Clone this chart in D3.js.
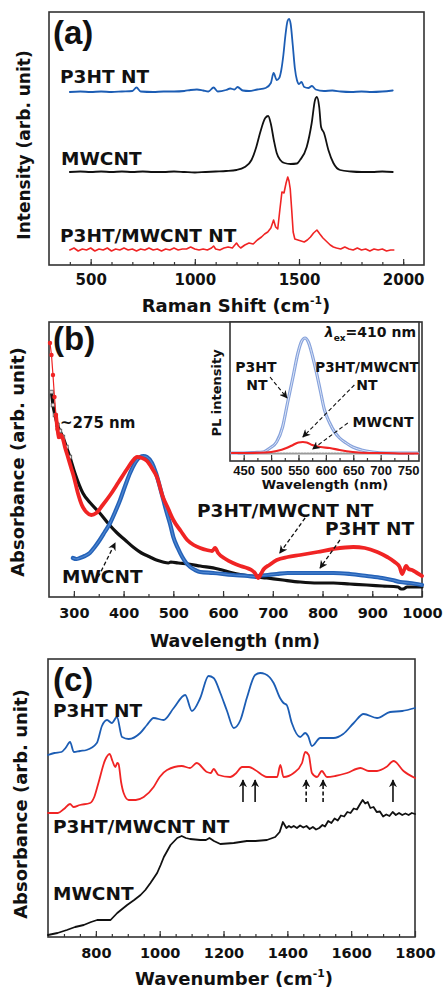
<!DOCTYPE html>
<html>
<head>
<meta charset="utf-8">
<title>P3HT / MWCNT nanotube spectra</title>
<script src="https://d3js.org/d3.v7.min.js"></script>
<style>
  body { margin: 0; background: #fff; }
  svg text { font-family: "DejaVu Sans", sans-serif; font-weight: bold; fill: #111; }
  .tick line { stroke: #333; stroke-width: 1.2; }
  .tick text { fill: #111; }
</style>
</head>
<body>
<svg id="fig" width="444" height="994"></svg>
<script>
// ---------- (a) Raman, [shift cm-1, intensity arb.] ----------
var ramanP3ht = [[400,173],[450,173.5],[500,173],[550,173.5],[600,173],[650,173.5],[700,174],[720,177.5],[740,173.5],
  [800,173],[850,173.5],[900,173.5],[950,174],[980,175],[1010,175.5],[1040,174.5],[1065,173.5],[1090,177.5],[1110,173.5],
  [1150,175],[1170,176.5],[1190,175.5],[1205,178],[1230,174.5],[1260,174],[1300,175.5],[1340,177],[1365,182],[1378,192],
  [1393,185],[1405,187],[1415,195],[1425,210],[1435,230],[1445,244],[1452,246],[1460,241],[1470,220],[1480,197],[1490,185],
  [1500,181],[1512,183],[1525,178],[1545,177],[1562,179],[1580,175.5],[1620,174],[1660,174.5],[1700,173.5],[1750,173],
  [1800,173.5],[1850,173],[1900,173.5],[1950,174.5]];
var ramanMwcnt = [[400,93],[450,93.5],[500,93],[550,93.5],[600,93],[650,93.5],[700,93],[750,93.5],[800,93],[850,93],
  [900,93.5],[950,93],[1000,92.5],[1050,93],[1100,93.5],[1150,94],[1200,95],[1240,98],[1272,105],[1295,118],[1313,132],
  [1338,147],[1352,149],[1365,141],[1380,124],[1393,112],[1410,105],[1430,102],[1460,101],[1490,101.5],[1505,105],
  [1537,118],[1561,142],[1577,165],[1586,168],[1597,158],[1606,138],[1620,132],[1641,115],[1665,102],[1697,95],
  [1750,93.5],[1800,93],[1850,93],[1900,93.5],[1950,93]];
var ramanHybrid = [[400,15],[420,17],[440,14],[460,16],[480,15],[500,17],[520,14],[540,16],[560,15],[580,17],[600,14],
  [620,16],[640,15],[660,17],[680,15],[700,16],[720,14],[740,16],[760,15],[780,17],[800,15],[820,16],[840,14],[860,16],
  [880,15],[900,17],[920,15],[940,16],[960,16],[980,18],[1000,16],[1020,15],[1040,16],[1060,15],[1080,17],[1090,19],
  [1100,16],[1120,15],[1140,17],[1160,18],[1180,17],[1200,22],[1210,19],[1220,17],[1240,20],[1260,22],[1280,21],[1300,25],
  [1320,28],[1335,31],[1350,33],[1365,37],[1378,45],[1388,38],[1398,36],[1408,55],[1418,73],[1428,72],[1438,82],[1446,88],
  [1452,84],[1458,76],[1465,55],[1472,33],[1480,26],[1495,25],[1510,24],[1525,23],[1540,25],[1555,28],[1570,32],[1586,35],
  [1600,31],[1615,27],[1630,24],[1650,20],[1665,18],[1680,17],[1700,16],[1720,18],[1740,16],[1760,15],[1780,17],[1800,15],
  [1820,16],[1840,14],[1860,16],[1880,15],[1900,16],[1920,14],[1940,15],[1955,15]];
var ramanMajor = [500, 1000, 1500, 2000];

// ---------- (b) UV-vis absorbance, [wavelength nm, absorbance arb.] ----------
var absHybrid = [[252,254],[255,242],[258,222],[261,200],[264,182],[267,168],[270,160],[274,162],[278,158],[282,150],
  [288,140],[294,130],[300,120],[308,104],[316,92],[325,85],[335,82],[345,84],[358,92],[373,102],[390,115],[407,128],
  [418,136],[427,140],[437,139],[447,136],[458,128],[467,120],[479,100],[490,88],[500,77],[515,66],[528,57],[541,52],
  [554,49],[567,47],[578,46],[584,49],[590,44],[605,38],[620,34],[635,31],[648,29],[657,27],[664,24],[671,19],[676,23],
  [682,28],[693,32],[708,37],[730,40],[755,42],[790,45],[822,48],[862,50],[885,49],[910,45],[930,40],[945,35],[955,30],
  [960,23],[964,27],[968,31],[973,28],[980,27],[990,24],[1000,21]];
var absMwcnt = [[255,205],[258,192],[262,182],[267,172],[272,166],[278,160],[285,150],[292,140],[302,124],[318,104],
  [335,93],[352,84],[370,73],[387,64],[403,57],[419,50],[436,44],[453,40],[466,37],[479,35],[490,34],[495,35],[510,34],
  [530,33],[554,31],[590,28],[620,24],[655,21],[688,19],[720,17],[755,15],[790,14],[822,14],[855,13],[889,12],[920,11],
  [952,10],[958,8],[962,8],[970,10],[985,10],[1000,10]];
var absP3ht = [[298,39],[305,38],[312,39],[322,41],[332,44],[342,50],[352,57],[362,65],[373,74],[383,85],[393,97],
  [403,111],[413,124],[423,134],[433,140],[440,141],[447,140],[457,134],[465,124],[473,110],[480,97],[487,84],[494,72],
  [500,60],[509,49],[518,40],[526,34],[534,30],[544,27],[554,25],[580,24],[620,22],[650,21],[668,20],[672,21],[690,22],
  [708,23],[730,24],[755,24],[790,24],[822,24],[855,23],[889,21],[920,19],[940,17],[956,15],[975,14],[1000,12]];
var absMajor = [300, 400, 500, 600, 700, 800, 900, 1000];

// inset: PL, [wavelength nm, PL intensity]
var plP3ht = [[428,8],[450,8],[470,8.5],[485,9],[498,13],[510,19],[521,34],[530,58],[540,84],[549,108],[556,120],
  [562,123],[568,119],[576,104],[583,88],[590,70],[597,52],[607,38],[616,29],[625,23],[637,18],[649,14],[665,11],
  [685,9],[710,8],[740,8],[768,8]];
var plHybrid = [[428,8],[460,8],[490,8.5],[510,10],[528,13],[540,16],[550,18.5],[558,19],[565,18.5],[575,16],[590,14],
  [607,13],[625,11],[649,9],[680,8],[710,8],[740,7.5],[768,7.5]];
var plMwcnt = [[440,7.5],[480,7.5],[520,7.5],[560,7.5],[600,7.5],[640,7.5],[680,7.5],[720,7.5],[760,7.5]];
var plMajor = [450, 500, 550, 600, 650, 700, 750];

// ---------- (c) FTIR, [wavenumber cm-1, absorbance arb.] ----------
var irP3ht = [[650,182],[670,184],[692,185],[705,189],[719,195],[731,185],[750,186],[771,187],[803,194],[819,211],
  [835,217],[850,214],[866,220],[882,200],[903,198],[939,204],[960,212],[981,219],[1012,217],[1044,229],[1080,242],
  [1101,226],[1127,239],[1153,261],[1169,259],[1190,244],[1211,226],[1232,209],[1253,217],[1273,239],[1299,262],
  [1315,264],[1330,263],[1357,254],[1377,239],[1388,234],[1398,232],[1414,214],[1440,200],[1456,204],[1465,201],
  [1477,191],[1503,199],[1545,199],[1575,203],[1608,214],[1639,223],[1681,219],[1722,225],[1760,226],[1800,229]];
var irHybrid = [[650,124],[681,124],[700,128],[719,133],[730,130],[750,132],[782,134],[795,140],[808,154],[829,177],
  [843,183],[852,176],[861,170],[867,174],[871,173],[879,155],[887,144],[903,137],[925,137],[950,140],[981,150],
  [1000,160],[1023,167],[1069,171],[1095,169],[1116,174],[1148,165],[1160,164],[1169,168],[1184,162],[1221,160],
  [1240,164],[1258,170],[1280,170],[1299,167],[1336,160],[1368,160],[1378,172],[1388,160],[1420,164],[1446,174],
  [1456,185],[1467,182],[1477,164],[1493,160],[1508,166],[1524,160],[1550,161],[1587,164],[1629,169],[1655,166],
  [1681,166],[1710,170],[1733,176],[1764,166],[1800,159]];
var irMwcnt = [[650,2],[680,4],[709,7],[735,10],[762,12],[785,15],[804,17],[825,17],[846,17],[867,24],[898,32],
  [920,37],[940,42],[955,47],[971,54],[992,64],[1003,72],[1013,80],[1034,92],[1055,99],[1069,101],[1082,99],[1095,98],
  [1127,97],[1145,97],[1156,99],[1170,96],[1190,93],[1232,94],[1273,96],[1300,96],[1336,97],[1362,100],[1376,105],
  [1386,115],[1397,109],[1405,111],[1412,109.5],[1420,111],[1430,109],[1440,111.5],[1450,109.5],[1460,111],[1470,108],
  [1480,110],[1490,107.5],[1500,109],[1510,112],[1518,110.5],[1528,116],[1538,114],[1548,118.5],[1558,116.5],[1568,121.5],
  [1578,120.5],[1588,125],[1598,124],[1608,128.5],[1618,127.5],[1628,133],[1636,137],[1644,133.5],[1652,135],[1660,129],
  [1670,130],[1680,125],[1690,125.5],[1700,120.5],[1710,122.5],[1720,121],[1730,125],[1740,122],[1750,124],[1760,122],
  [1770,123.5],[1780,122],[1790,124],[1800,123]];
var irMajor = [800, 1000, 1200, 1400, 1600, 1800];
var irPeaks = [1261, 1299, 1459, 1512, 1731];   // arrows under the hybrid trace
var irPeakDashed = [false, false, true, true, false];

var BLUE = "#1c5db4", RED = "#f02424", BLACK = "#111";

var svg = d3.select("#fig");

svg.append("defs").append("marker")
   .attr("id", "head")
   .attr("markerUnits", "userSpaceOnUse")
   .attr("viewBox", "0 0 10 10")
   .attr("refX", 9).attr("refY", 5)
   .attr("markerWidth", 8).attr("markerHeight", 8)
   .attr("orient", "auto")
   .append("path").attr("d", "M0,0 L10,5 L0,10 L3,5 z").attr("fill", "#111");

// frame + scales + bottom ticks for one panel
function makePanel(box, xDom, yDom, major, minorStep, fontSize, pad, font) {
  var x = d3.scaleLinear().domain(xDom).range([box.left, box.right]);
  var y = d3.scaleLinear().domain(yDom).range([box.bottom, box.top]);
  var g = svg.append("g");
  g.append("rect")
   .attr("x", box.left).attr("y", box.top)
   .attr("width", box.right - box.left).attr("height", box.bottom - box.top)
   .attr("fill", "#fff").attr("stroke", "#333").attr("stroke-width", 1.6);
  var minor = d3.range(xDom[0], xDom[1] + 1, minorStep).filter(function(d) {
    return d > xDom[0] && d < xDom[1];
  });
  g.append("g")
   .attr("transform", "translate(0," + box.bottom + ")")
   .call(d3.axisBottom(x).tickValues(minor).tickSize(-3).tickFormat(""))
   .call(function(s) { s.select(".domain").remove(); });
  g.append("g")
   .attr("transform", "translate(0," + box.bottom + ")")
   .call(d3.axisBottom(x).tickValues(major).tickSize(-6).tickPadding(pad).tickFormat(d3.format("d")))
   .call(function(s) {
     s.select(".domain").remove();
     s.selectAll("text").attr("font-size", fontSize)
      .style("font-family", font || "DejaVu Sans");
   });
  return { x: x, y: y, g: g };
}

function trace(p, data, color, width, curve) {
  var line = d3.line()
    .x(function(d) { return p.x(d[0]); })
    .y(function(d) { return p.y(d[1]); })
    .curve(curve || d3.curveMonotoneX);
  return p.g.append("path").datum(data)
    .attr("d", line).attr("fill", "none")
    .attr("stroke", color).attr("stroke-width", width)
    .attr("stroke-linejoin", "round").attr("stroke-linecap", "round");
}

function label(x, y, txt, size, anchor) {
  return svg.append("text").attr("x", x).attr("y", y)
    .attr("font-size", size).attr("text-anchor", anchor || "start").text(txt);
}

function panelLetter(x, y, txt) {
  label(x, y, txt, 33).style("font-family", "'Liberation Sans', Arial, sans-serif");
}

function xTitle(cx, y, main, sup, size) {
  var t = svg.append("text").attr("x", cx).attr("y", y).attr("text-anchor", "middle")
    .attr("font-size", size).text(main);
  if (sup) {
    t.append("tspan").attr("font-size", size * 0.6).attr("dy", -size * 0.42).text(sup);
    t.append("tspan").attr("dy", size * 0.42).text(")");
  }
}

function yTitle(cx, cy, txt, size) {
  svg.append("text")
    .attr("transform", "translate(" + cx + "," + cy + ") rotate(-90)")
    .attr("text-anchor", "middle").attr("dy", "0.35em")
    .attr("font-size", size).text(txt);
}

function arrow(p, from, to, dashed, width) {
  p.g.append("line")
    .attr("x1", p.x(from[0])).attr("y1", p.y(from[1]))
    .attr("x2", p.x(to[0])).attr("y2", p.y(to[1]))
    .attr("stroke", "#111").attr("stroke-width", width || 1.3)
    .attr("stroke-dasharray", dashed ? "4,2.5" : null)
    .attr("marker-end", "url(#head)");
}

// ===== (a) =====
var pa = makePanel({ left: 49, right: 424, top: 12, bottom: 265 }, [300, 2100], [0, 253],
                   ramanMajor, 100, 15, 9);
trace(pa, ramanP3ht, BLUE, 1.8);
trace(pa, ramanMwcnt, BLACK, 1.8);
trace(pa, ramanHybrid, RED, 1.6, d3.curveLinear);
panelLetter(53, 44, "(a)");
label(60, 83, "P3HT NT", 18.5);
label(61, 165, "MWCNT", 18.5);
label(60, 242, "P3HT/MWCNT NT", 18.5);
xTitle(236, 312, "Raman Shift (cm", "-1", 18);
yTitle(24, 145, "Intensity (arb. unit)", 17);

// ===== (b) =====
var pb = makePanel({ left: 49, right: 422, top: 322, bottom: 597 }, [250, 1000], [0, 275],
                   absMajor, 50, 14.5, 10.5);
trace(pb, absMwcnt, BLACK, 3.2);
pb.g.selectAll(".sqm").data(absMwcnt.filter(function(d) { return d[0] < 300; }))
  .enter().append("rect")
  .attr("x", function(d) { return pb.x(d[0]) - 1.8; }).attr("y", function(d) { return pb.y(d[1]) - 1.8; })
  .attr("width", 3.6).attr("height", 3.6).attr("fill", "#ddd").attr("stroke", "#555").attr("stroke-width", 0.8);
trace(pb, absP3ht, "#2462b8", 4.2);
trace(pb, absP3ht, "#4f86d0", 1.2);
trace(pb, absHybrid.filter(function(d) { return d[0] <= 266; }), RED, 1.2, d3.curveLinear);
trace(pb, absHybrid.filter(function(d) { return d[0] >= 264; }), RED, 3.8);
pb.g.selectAll(".dotm").data(absHybrid.filter(function(d) { return d[0] <= 270; }))
  .enter().append("circle")
  .attr("cx", function(d) { return pb.x(d[0]); }).attr("cy", function(d) { return pb.y(d[1]); })
  .attr("r", 2.2).attr("fill", RED);
arrow(pb, [349, 20], [383, 54], true);
arrow(pb, [765, 79], [714, 44], true);
arrow(pb, [835, 57], [795, 29], true);
panelLetter(53, 350, "(b)");
label(60, 428, "~275 nm", 15);
label(62, 583, "MWCNT", 18.5);
label(197, 517, "P3HT/MWCNT NT", 18.5);
label(325, 535, "P3HT NT", 18.5);
xTitle(235, 647, "Wavelength (nm)", null, 17.5);
yTitle(18, 462, "Absorbance (arb. unit)", 18);

// inset
var pi = makePanel({ left: 230, right: 419, top: 322, bottom: 461 }, [425, 770], [0, 139],
                   plMajor, 25, 13, 5, "'Liberation Sans', Arial, sans-serif");
trace(pi, plMwcnt, "#9a9a9a", 2.2, d3.curveLinear).attr("stroke-dasharray", "1.5,1.5");
trace(pi, plP3ht, "#86a2dc", 3.2);
trace(pi, plP3ht, "#dbe4f6", 1);
trace(pi, plHybrid, RED, 2.2);
arrow(pi, [498, 84], [529, 63], true, 1.1);
arrow(pi, [652, 76], [558, 24], true, 1.1);
arrow(pi, [640, 38], [576, 12], true, 1.1);
var lam = svg.append("text").attr("x", 416).attr("y", 337).attr("text-anchor", "end").attr("font-size", 14);
lam.append("tspan").attr("font-style", "italic").text("λ");
lam.append("tspan").attr("font-size", 9).attr("dy", 4).text("ex");
lam.append("tspan").attr("dy", -4).text("=410 nm");
label(256, 372, "P3HT", 14, "middle");
label(257, 390, "NT", 14, "middle");
label(367, 372, "P3HT/MWCNT", 13.5, "middle");
label(367, 390, "NT", 14, "middle");
label(383, 427, "MWCNT", 14, "middle");
xTitle(325, 489, "Wavelength (nm)", null, 13);
yTitle(216, 393, "PL intensity", 13);

// ===== (c) =====
var pc = makePanel({ left: 48, right: 415, top: 659, bottom: 937 }, [650, 1800], [0, 278],
                   irMajor, 50, 14.5, 10.5);
trace(pc, irP3ht, BLUE, 1.8);
trace(pc, irHybrid, RED, 1.8);
trace(pc, irMwcnt, BLACK, 1.8, d3.curveLinear);
irPeaks.forEach(function(w, i) {
  arrow(pc, [w, 135], [w, 157], irPeakDashed[i], 1.6);
});
panelLetter(53, 691, "(c)");
label(53, 717, "P3HT NT", 18.5);
label(53, 833, "P3HT/MWCNT NT", 18.5);
label(53, 900, "MWCNT", 18.5);
xTitle(234, 985, "Wavenumber (cm", "-1", 18);
yTitle(21, 804, "Absorbance (arb. unit)", 18);
</script>
</body>
</html>
